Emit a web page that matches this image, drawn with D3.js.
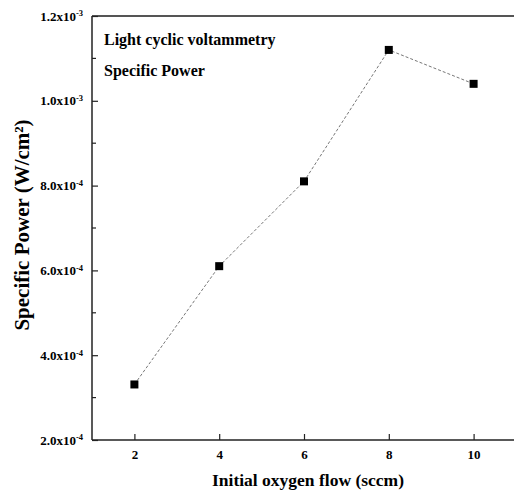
<!DOCTYPE html>
<html>
<head>
<meta charset="utf-8">
<script src="https://cdn.jsdelivr.net/npm/d3@7"></script>
<style>
  body { margin: 0; background: #fff; }
  text { font-family: "Liberation Serif", "Times New Roman", serif; font-weight: bold; fill: #000; }
</style>
</head>
<body>
<script>
// data
var flows = [2, 4, 6, 8, 10];
var power = [3.31e-4, 6.1e-4, 8.1e-4, 1.12e-3, 1.04e-3];
var xTicks = [2, 4, 6, 8, 10];
var yTicks = [2e-4, 4e-4, 6e-4, 8e-4, 1.0e-3, 1.2e-3];
var yTickLabels = [["2.0", "-4"], ["4.0", "-4"], ["6.0", "-4"], ["8.0", "-4"], ["1.0", "-3"], ["1.2", "-3"]];
var yMinor = [3e-4, 5e-4, 7e-4, 9e-4, 1.1e-3];

var width = 514, height = 495;
var margin = { top: 16, right: -2, bottom: 55, left: 92 };

var svg = d3.select("body").append("svg")
  .attr("width", width)
  .attr("height", height);

var x = d3.scaleLinear().domain([1, 11]).range([margin.left, width - margin.right]);
var y = d3.scaleLinear().domain([2e-4, 1.2e-3]).range([height - margin.bottom, margin.top]);

// frame (top edge only, right edge falls outside)
svg.append("line")
  .attr("x1", x(1)).attr("x2", x(11))
  .attr("y1", y(1.2e-3)).attr("y2", y(1.2e-3))
  .attr("stroke", "#555").attr("stroke-width", 2);

var xAxis = d3.axisBottom(x).tickValues(xTicks).tickSize(-6).tickPadding(10)
  .tickFormat(d3.format("d"));
var gx = svg.append("g")
  .attr("transform", "translate(0," + y(2e-4) + ")")
  .call(xAxis);
gx.select(".domain").attr("d", "M" + x(1) + ",0H" + x(11)).attr("stroke", "#222").attr("stroke-width", 1.5);
gx.selectAll(".tick line").attr("stroke", "#222").attr("stroke-width", 1.2);
gx.selectAll(".tick text").attr("font-size", 13).attr("font-family", null);

var yAxis = d3.axisLeft(y).tickValues(yTicks).tickSize(-6).tickPadding(9)
  .tickFormat("");
var gy = svg.append("g")
  .attr("transform", "translate(" + x(1) + ",0)")
  .call(yAxis);
gy.select(".domain").attr("d", "M0," + y(2e-4) + "V" + y(1.2e-3)).attr("stroke", "#222").attr("stroke-width", 1.5);
gy.selectAll(".tick line").attr("stroke", "#222").attr("stroke-width", 1.2);
gy.selectAll(".tick text")
  .attr("font-size", 13).attr("font-family", null)
  .each(function (d, i) {
    var t = d3.select(this);
    t.append("tspan").text(yTickLabels[i][0] + "x10");
    t.append("tspan").attr("font-size", 8.5).attr("dy", "-0.5em").text(yTickLabels[i][1]);
  });

gy.selectAll(".minor")
  .data(yMinor).enter()
  .append("line")
  .attr("class", "minor")
  .attr("x1", 0).attr("x2", 4)
  .attr("y1", function (d) { return y(d); })
  .attr("y2", function (d) { return y(d); })
  .attr("stroke", "#222").attr("stroke-width", 1.2);

// dashed connector
var line = d3.line()
  .x(function (d, i) { return x(flows[i]); })
  .y(function (d) { return y(d); });

svg.append("path")
  .datum(power)
  .attr("d", line)
  .attr("fill", "none")
  .attr("stroke", "#777")
  .attr("stroke-width", 1)
  .attr("stroke-dasharray", "3,2");

svg.selectAll(".pt")
  .data(power).enter()
  .append("rect")
  .attr("class", "pt")
  .attr("x", function (d, i) { return x(flows[i]) - 4; })
  .attr("y", function (d) { return y(d) - 4; })
  .attr("width", 8).attr("height", 8)
  .attr("fill", "#000");

// annotations
svg.append("text").attr("x", 104).attr("y", 45).attr("font-size", 16)
  .text("Light cyclic voltammetry");
svg.append("text").attr("x", 104).attr("y", 76).attr("font-size", 16)
  .text("Specific Power");

// axis titles
svg.append("text")
  .attr("x", 308).attr("y", 486)
  .attr("text-anchor", "middle")
  .attr("font-size", 17.5)
  .text("Initial oxygen flow (sccm)");

svg.append("text")
  .attr("transform", "translate(29,225) rotate(-90)")
  .attr("text-anchor", "middle")
  .attr("font-size", 21)
  .text("Specific Power (W/cm²)");
</script>
</body>
</html>
